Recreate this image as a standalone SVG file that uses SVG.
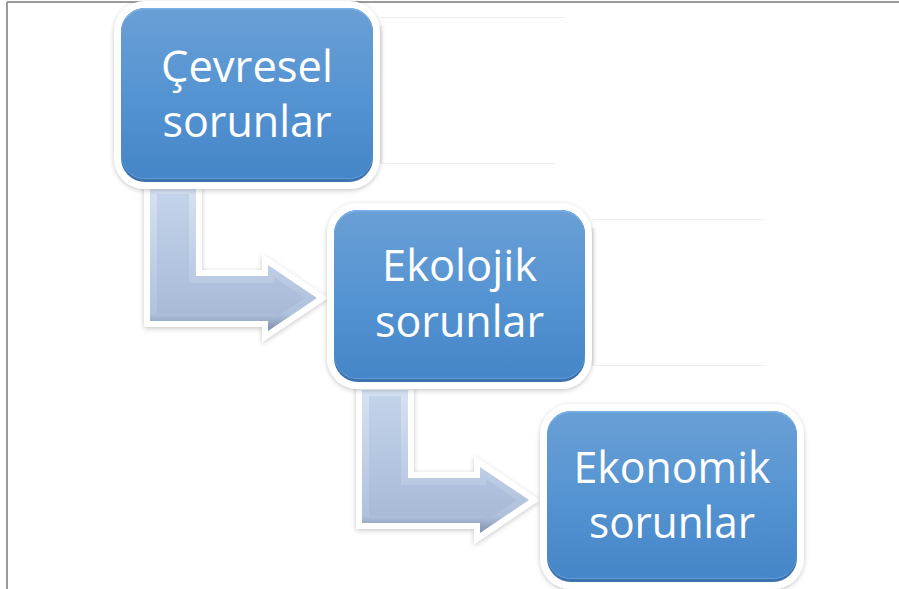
<svg xmlns="http://www.w3.org/2000/svg" width="899" height="589" viewBox="0 0 899 589">
<defs>
  <style>
    .frame{stroke:#9a9a9a;stroke-width:2;fill:none}
    .label{font-family:"Open Sans","Liberation Sans",sans-serif;font-size:44px;fill:#ffffff;text-anchor:middle}
    .halo{fill:#ffffff}
    .edgeDark{fill:#3c73ad}
    .edgeLight{fill:#79b2e8}
    .face{fill:url(#boxFill)}
    .arrowHalo{fill:#ffffff;stroke:#ffffff;stroke-width:12;stroke-linejoin:miter}
    .arrowOuter{fill:url(#arrowOuter)}
    .arrowInner{fill:url(#arrowInner)}
    .ghost{stroke:#efefef;stroke-width:1;fill:none}
  </style>
  <linearGradient id="boxFill" x1="0" y1="0" x2="0" y2="1">
    <stop offset="0" stop-color="#6a9fd5"/>
    <stop offset="0.5" stop-color="#5594d2"/>
    <stop offset="1" stop-color="#4586c8"/>
  </linearGradient>
  <linearGradient id="arrowOuter" x1="0" y1="0" x2="0" y2="1">
    <stop offset="0" stop-color="#d6e2f3"/>
    <stop offset="0.88" stop-color="#b0c1dc"/>
    <stop offset="1" stop-color="#7e8fae"/>
  </linearGradient>
  <linearGradient id="arrowInner" x1="0" y1="0" x2="0" y2="1">
    <stop offset="0" stop-color="#c3d3ea"/>
    <stop offset="1" stop-color="#a7b9d6"/>
  </linearGradient>
  <linearGradient id="edgeShade" x1="0" y1="0" x2="1" y2="0">
    <stop offset="0" stop-color="#cfcfcf"/>
    <stop offset="1" stop-color="#ffffff" stop-opacity="0"/>
  </linearGradient>
  <filter id="shadow" x="-10%" y="-10%" width="120%" height="125%">
    <feDropShadow dx="0" dy="1.5" stdDeviation="2.5" flood-color="#000000" flood-opacity="0.22"/>
  </filter>
  <polygon id="arrowShape" points="150,188 196,188 196,276 268,276 268,265 317,298 268,331 268,321 150,321"/>
  <polygon id="arrowCore" points="157,194 189,194 189,283 274,283 274,277 305,298 274,319 274,314 157,314"/>
</defs>

<rect x="0" y="0" width="899" height="589" fill="#ffffff"/>
<line class="frame" x1="7" y1="2" x2="899" y2="2"/>
<line class="frame" x1="7" y1="2" x2="7" y2="589"/>

<g id="reflections">
  <rect x="378" y="26" width="8" height="137" fill="url(#edgeShade)"/>
  <line class="ghost" x1="380" y1="17.5" x2="565" y2="17.5"/>
  <line class="ghost" x1="380" y1="163.5" x2="555" y2="163.5"/>
  <rect x="590" y="228" width="8" height="137" fill="url(#edgeShade)"/>
  <line class="ghost" x1="592" y1="219.5" x2="765" y2="219.5"/>
  <line class="ghost" x1="592" y1="365.5" x2="765" y2="365.5"/>
</g>

<g id="connectors">
  <g id="arrow1">
    <use href="#arrowShape" class="arrowHalo" filter="url(#shadow)"/>
    <use href="#arrowShape" class="arrowOuter"/>
    <use href="#arrowCore" class="arrowInner"/>
  </g>
  <g id="arrow2" transform="translate(212,202)">
    <use href="#arrowShape" class="arrowHalo" filter="url(#shadow)"/>
    <use href="#arrowShape" class="arrowOuter"/>
    <use href="#arrowCore" class="arrowInner"/>
  </g>
</g>

<g id="node1">
  <rect class="halo" x="114" y="1" width="266" height="188" rx="31" filter="url(#shadow)"/>
  <rect class="edgeDark" x="121" y="8" width="252" height="174" rx="24"/>
  <rect class="edgeLight" x="121" y="8" width="252" height="171" rx="24"/>
  <rect class="face" x="121" y="9.5" width="252" height="169" rx="24"/>
  <text class="label" x="247" y="82" textLength="172" lengthAdjust="spacingAndGlyphs">Çevresel</text>
  <text class="label" x="247" y="137" textLength="169" lengthAdjust="spacingAndGlyphs">sorunlar</text>
</g>

<g id="node2">
  <rect class="halo" x="327" y="203" width="265" height="186" rx="31" filter="url(#shadow)"/>
  <rect class="edgeDark" x="334" y="210" width="251" height="172" rx="24"/>
  <rect class="edgeLight" x="334" y="210" width="251" height="169" rx="24"/>
  <rect class="face" x="334" y="211.5" width="251" height="167" rx="24"/>
  <text class="label" x="459.5" y="281" textLength="155" lengthAdjust="spacingAndGlyphs">Ekolojik</text>
  <text class="label" x="459.5" y="337" textLength="169" lengthAdjust="spacingAndGlyphs">sorunlar</text>
</g>

<g id="node3">
  <rect class="halo" x="540" y="404" width="264" height="185" rx="31" filter="url(#shadow)"/>
  <rect class="edgeDark" x="547" y="411" width="250" height="171" rx="24"/>
  <rect class="edgeLight" x="547" y="411" width="250" height="168" rx="24"/>
  <rect class="face" x="547" y="412.5" width="250" height="166" rx="24"/>
  <text class="label" x="672" y="483" textLength="197" lengthAdjust="spacingAndGlyphs">Ekonomik</text>
  <text class="label" x="672" y="538" textLength="166" lengthAdjust="spacingAndGlyphs">sorunlar</text>
</g>
</svg>
